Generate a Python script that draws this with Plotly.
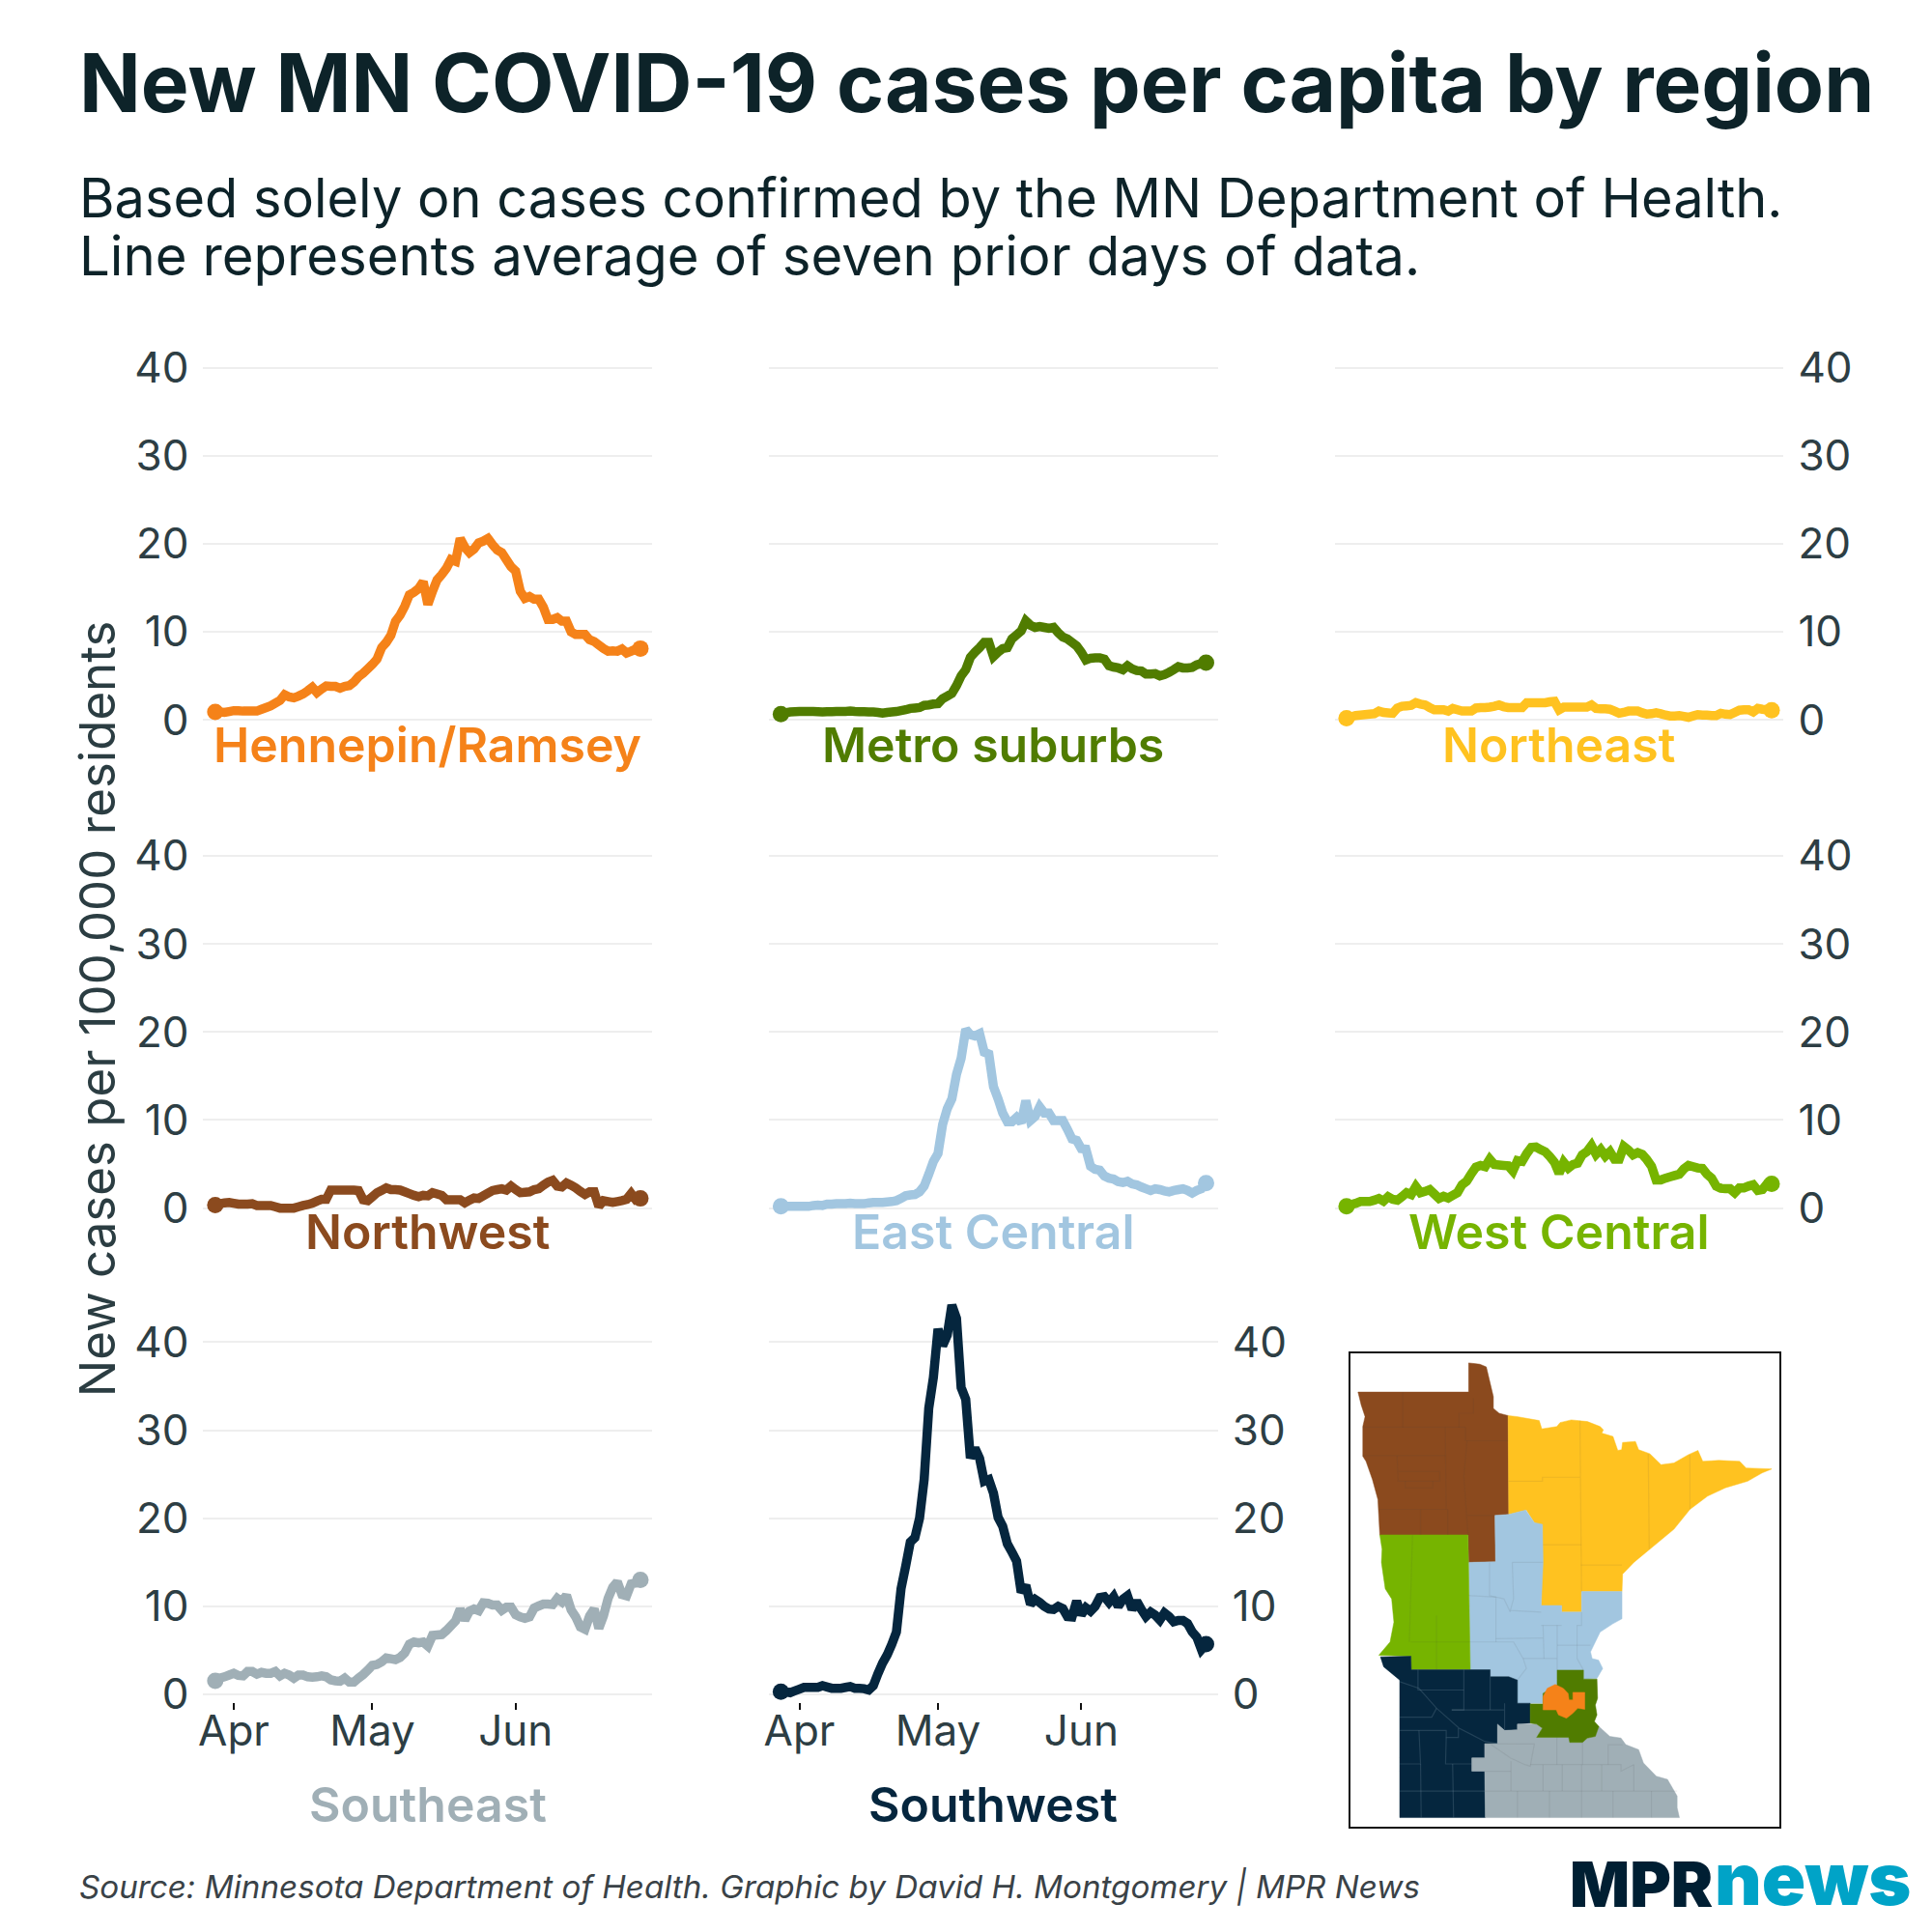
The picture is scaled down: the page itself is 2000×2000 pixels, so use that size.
import pandas as pd
import plotly.graph_objects as go

# Daily values, 28 March to 28 June
dates = pd.date_range("2020-03-28", "2020-06-28", freq="D")

hennepin_ramsey = [0.9, 0.9, 0.85, 0.95, 1.05, 1.05, 1.0, 1.0, 1.0, 1.0,
                   1.2, 1.4, 1.6, 1.9, 2.2, 2.85, 2.6, 2.5, 2.7, 2.95,
                   3.3, 3.7, 3.1, 3.5, 3.85, 3.8, 3.8, 3.6, 3.8, 3.9,
                   4.3, 4.9, 5.3, 5.8, 6.3, 6.9, 8.2, 8.8, 9.6, 11.2,
                   11.9, 12.9, 14.2, 14.5, 14.9, 15.7, 13.1, 14.6, 15.9, 16.5,
                   17.2, 18.2, 18.0, 20.6, 19.6, 19.0, 19.4, 20.1, 20.3, 20.6,
                   19.9, 19.3, 19.0, 18.2, 17.4, 16.9, 14.6, 13.8, 14.0, 13.7,
                   13.7, 12.8, 11.4, 11.4, 11.6, 11.2, 11.2, 10.0, 9.7, 9.7,
                   9.7, 9.1, 8.9, 8.5, 8.1, 7.8, 7.85, 7.8, 8.05, 7.6,
                   7.8, 8.05, 8.1]
metro_suburbs = [0.65, 0.8, 0.9, 0.92, 0.95, 0.95, 0.95, 0.95, 0.92, 0.9,
                 0.92, 0.93, 0.95, 0.95, 0.97, 1.0, 0.95, 0.93, 0.92, 0.9,
                 0.9, 0.85, 0.77, 0.85, 0.9, 0.95, 1.05, 1.15, 1.3, 1.35,
                 1.4, 1.65, 1.7, 1.8, 1.85, 2.4, 2.7, 3.0, 3.9, 5.0,
                 5.7, 7.1, 7.7, 8.2, 8.8, 8.8, 7.2, 7.7, 8.1, 8.2,
                 9.2, 9.65, 10.1, 11.25, 10.75, 10.5, 10.6, 10.5, 10.4, 10.5,
                 9.9, 9.4, 9.2, 8.8, 8.4, 7.7, 6.8, 7.0, 7.05, 7.05,
                 6.9, 6.15, 6.0, 5.9, 5.7, 6.15, 5.8, 5.6, 5.55, 5.2,
                 5.2, 5.25, 5.0, 5.15, 5.4, 5.7, 6.05, 5.9, 5.9, 5.95,
                 6.25, 6.4, 6.5]
northeast = [0.2, 0.35, 0.5, 0.55, 0.6, 0.65, 0.7, 1.0, 0.85, 0.8,
             0.75, 1.35, 1.55, 1.6, 1.65, 1.95, 1.8, 1.7, 1.4, 1.15,
             1.15, 1.15, 1.0, 1.3, 1.15, 1.0, 1.0, 1.0, 1.35, 1.4,
             1.4, 1.45, 1.55, 1.7, 1.5, 1.4, 1.4, 1.4, 1.4, 1.95,
             1.95, 1.95, 1.95, 1.95, 2.05, 2.1, 1.15, 1.45, 1.45, 1.45,
             1.45, 1.45, 1.45, 1.7, 1.3, 1.25, 1.25, 1.2, 1.0, 0.75,
             0.85, 1.0, 1.0, 1.0, 0.8, 0.65, 0.7, 0.8, 0.7, 0.55,
             0.45, 0.45, 0.5, 0.4, 0.3, 0.45, 0.6, 0.55, 0.55, 0.5,
             0.5, 0.75, 0.65, 0.6, 0.85, 1.1, 1.15, 1.15, 0.9, 1.3,
             1.2, 1.15, 1.1]
northwest = [0.35, 0.5, 0.6, 0.65, 0.55, 0.45, 0.45, 0.45, 0.5, 0.3,
             0.3, 0.3, 0.3, 0.15, 0.0, 0.0, 0.0, 0.0, 0.15, 0.3,
             0.4, 0.55, 0.8, 1.0, 1.0, 2.05, 2.05, 2.05, 2.05, 2.05,
             2.05, 2.0, 0.95, 0.85, 1.3, 1.75, 2.0, 2.3, 2.1, 2.1,
             2.05, 1.85, 1.65, 1.45, 1.3, 1.45, 1.4, 1.75, 1.6, 1.45,
             0.95, 0.95, 0.95, 0.95, 0.6, 0.9, 1.15, 1.1, 1.4, 1.7,
             2.0, 2.1, 2.2, 2.05, 2.5, 2.1, 1.75, 1.8, 1.85, 2.1,
             2.2, 2.6, 2.95, 3.15, 2.5, 2.4, 2.85, 2.6, 2.3, 1.9,
             1.55, 1.85, 1.85, 0.2, 0.85, 0.75, 0.65, 0.75, 0.85, 1.0,
             1.65, 0.95, 1.1]
east_central = [0.2, 0.2, 0.2, 0.2, 0.2, 0.2, 0.2, 0.3, 0.35, 0.3,
                0.45, 0.45, 0.5, 0.5, 0.5, 0.55, 0.5, 0.5, 0.5, 0.6,
                0.65, 0.65, 0.65, 0.7, 0.75, 0.85, 1.1, 1.4, 1.5, 1.55,
                1.85, 2.5, 3.85, 5.3, 6.2, 9.5, 11.3, 12.4, 15.2, 17.0,
                20.3, 19.7, 19.55, 19.8, 17.7, 17.5, 13.8, 12.4, 10.8, 9.8,
                9.8, 10.3, 9.7, 12.2, 9.95, 10.4, 11.5, 10.8, 10.8, 9.95,
                9.95, 9.95, 8.95, 7.85, 7.7, 6.75, 6.7, 4.75, 4.4, 4.3,
                3.65, 3.4, 3.3, 3.0, 2.9, 3.05, 2.75, 2.65, 2.4, 2.2,
                2.0, 2.2, 2.1, 1.95, 1.85, 2.0, 2.1, 2.2, 2.0, 1.7,
                2.0, 2.2, 2.85]
west_central = [0.2, 0.4, 0.55, 0.75, 0.75, 0.75, 0.9, 1.1, 0.8, 1.3,
                1.0, 0.9, 1.3, 1.75, 1.55, 2.45, 1.75, 1.9, 2.1, 1.6,
                1.1, 1.35, 1.15, 1.45, 1.75, 2.65, 3.05, 3.9, 4.65, 4.85,
                4.7, 5.55, 4.95, 4.9, 4.85, 4.8, 4.2, 5.4, 5.3, 6.2,
                6.9, 6.95, 6.65, 6.4, 5.85, 5.2, 3.95, 5.2, 4.55, 4.95,
                5.1, 6.05, 6.4, 7.1, 6.1, 6.65, 5.9, 6.4, 5.55, 5.55,
                7.0, 6.6, 6.05, 6.3, 6.1, 5.5, 4.75, 3.2, 3.2, 3.4,
                3.55, 3.7, 3.85, 4.45, 4.85, 4.7, 4.55, 4.5, 3.85, 3.4,
                2.5, 2.25, 2.2, 2.2, 1.75, 2.3, 2.3, 2.5, 2.65, 2.0,
                2.1, 2.75, 2.75]
southeast = [1.55, 1.85, 2.0, 2.2, 2.4, 2.15, 2.1, 2.6, 2.6, 2.3,
             2.5, 2.4, 2.4, 2.6, 2.1, 2.4, 2.2, 1.85, 2.2, 2.2,
             2.0, 1.95, 2.0, 2.1, 2.0, 1.65, 1.55, 1.5, 1.85, 1.4,
             1.4, 1.85, 2.25, 2.75, 3.3, 3.4, 3.7, 4.15, 4.05, 3.95,
             4.2, 4.7, 5.7, 5.95, 5.85, 5.95, 5.5, 6.7, 6.75, 6.8,
             7.25, 7.8, 8.35, 9.7, 8.45, 9.45, 9.7, 9.5, 10.4, 10.35,
             10.15, 10.15, 9.55, 9.9, 9.9, 9.05, 8.8, 8.65, 8.8, 9.8,
             10.05, 10.25, 10.25, 10.2, 10.9, 10.5, 11.25, 9.6, 8.8, 7.65,
             7.4, 8.9, 9.7, 7.5, 8.9, 10.9, 12.15, 12.8, 11.35, 11.2,
             12.55, 12.65, 13.0]
southwest = [0.3, 0.3, 0.2, 0.4, 0.6, 0.8, 0.8, 0.8, 0.8, 1.0,
             0.85, 0.7, 0.7, 0.7, 0.8, 0.9, 0.7, 0.7, 0.65, 0.5,
             1.0, 2.35, 3.55, 4.5, 5.7, 7.1, 12.0, 14.55, 17.3, 17.8,
             20.0, 24.4, 32.5, 36.0, 41.5, 39.6, 40.8, 44.2, 42.7, 34.85,
             33.5, 26.85, 27.95, 26.8, 24.2, 24.4, 22.85, 20.1, 19.1, 17.1,
             16.15, 15.15, 11.6, 12.4, 10.25, 10.8, 10.45, 10.0, 9.7, 9.65,
             10.0, 9.75, 8.85, 8.8, 10.6, 9.05, 9.85, 9.45, 10.0, 11.0,
             11.1, 10.45, 11.1, 10.0, 10.8, 11.2, 9.65, 10.6, 9.65, 8.85,
             9.35, 9.0, 8.45, 9.25, 8.85, 8.25, 8.4, 8.4, 8.05, 7.1,
             6.5, 5.1, 5.7]

y_ticks = [0, 10, 20, 30, 40]
month_ticks = ["2020-04-01", "2020-05-01", "2020-06-01"]
month_labels = ["Apr", "May", "Jun"]

# Map shapes, in the pixel grid of the map frame
nw_x = [75, 420, 420, 455, 475, 485, 497, 497, 515, 543, 543, 545, 502, 504, 420, 418, 143, 137, 120, 100, 90, 90, 97, 85]
nw_y = [176, 176, 88, 92, 100, 145, 190, 225, 240, 247, 440, 545, 548, 688, 690, 607, 607, 500, 440, 385, 370, 280, 250, 215]
ne_x = [543, 570, 640, 648, 695, 705, 740, 790, 830, 840, 835, 870, 885, 897, 900, 940, 950, 985, 1020, 1060, 1105, 1135, 1150, 1200, 1265, 1285, 1365, 1335, 1290, 1220, 1165, 1110, 1060, 985, 935, 900, 898, 772, 772, 710, 710, 646, 650, 625, 600, 545]
ne_y = [247, 250, 262, 287, 280, 268, 260, 265, 280, 290, 300, 310, 352, 350, 328, 325, 350, 362, 395, 390, 365, 352, 385, 382, 385, 405, 408, 420, 445, 465, 490, 530, 590, 650, 690, 725, 778, 778, 840, 840, 820, 820, 580, 570, 532, 545]
ec_x = [502, 545, 598, 625, 650, 652, 646, 710, 710, 772, 772, 898, 898, 870, 830, 800, 805, 825, 838, 820, 778, 778, 696, 696, 660, 652, 572, 572, 545, 487, 487, 425, 420, 504]
ec_y = [548, 545, 532, 570, 575, 690, 820, 820, 840, 840, 778, 778, 860, 875, 900, 960, 980, 985, 1010, 1040, 1042, 1015, 1015, 1060, 1085, 1115, 1115, 1045, 1035, 1035, 1014, 1014, 690, 688]
wc_x = [143, 418, 425, 241, 240, 140, 175, 187, 180, 160, 148, 150]
wc_y = [607, 607, 1013, 1013, 973, 970, 930, 870, 800, 770, 690, 650]
sw_x = [145, 240, 241, 487, 487, 545, 572, 572, 612, 612, 572, 572, 532, 510, 510, 470, 470, 430, 430, 470, 472, 205, 205, 170, 155]
sw_y = [975, 973, 1014, 1014, 1035, 1035, 1045, 1115, 1115, 1175, 1178, 1195, 1197, 1180, 1237, 1237, 1280, 1280, 1320, 1320, 1460, 1460, 1045, 1015, 1005]
se_x = [510, 532, 572, 572, 632, 650, 632, 732, 735, 775, 790, 815, 826, 860, 895, 910, 950, 965, 1005, 1040, 1070, 1070, 1077, 472, 470, 430, 430, 470, 470, 510]
se_y = [1178, 1197, 1195, 1178, 1178, 1190, 1218, 1218, 1233, 1233, 1220, 1215, 1185, 1215, 1220, 1240, 1255, 1295, 1335, 1345, 1395, 1430, 1460, 1460, 1320, 1320, 1280, 1280, 1237, 1237]
metro_x = [612, 652, 652, 696, 696, 778, 778, 820, 822, 815, 820, 812, 826, 815, 790, 775, 735, 732, 632, 650, 632, 612]
metro_y = [1117, 1117, 1085, 1060, 1015, 1015, 1042, 1042, 1100, 1120, 1150, 1170, 1185, 1215, 1220, 1233, 1233, 1218, 1218, 1190, 1178, 1175]
hr_x = [652, 652, 665, 690, 715, 730, 733, 745, 745, 782, 782, 760, 745, 725, 700, 693]
hr_y = [1135, 1095, 1070, 1058, 1070, 1085, 1105, 1105, 1082, 1082, 1133, 1130, 1145, 1160, 1150, 1135]

# County lines, None breaks the line
county_x = [215, 215, None, 90, 410, None, 347, 350, None, 390, 390, 435, 435, None, 410, 410, 543, None, 90, 347, None,
            197, 200, 330, 330, 200, None, 222, 222, 308, 308, None, 415, 405, 418, None, 140, 355, None, 270, 270, None,
            355, 355, None, 418, 502, None, 767, 772, None, 545, 650, 650, 767, None, 980, 983, None, 1110, 1110, None,
            652, 772, None, 770, 898, None, 420, 505, 505, None, 485, 485, 530, 550, None, 556, 652, None, 556, 560, 550, 646, None,
            652, 655, None, 646, 710, None, 505, 652, None, 425, 560, 590, 600, 572, None, 590, 695, None, 696, 696, None, 696, 800, None,
            772, 772, 758, 758, 778, None, 245, 235, None, 240, 425, None, 320, 320, None,
            470, 625, 612, 595, 550, 490, None, 552, 552, None, 470, 552, None, 612, 895, 895, 935, None,
            652, 652, None, 712, 712, None, 772, 772, None, 835, 835, None, 935, 935, None, 470, 1070, None,
            572, 572, None, 672, 672, None, 870, 870, None, 990, 990, None, 695, 695, None, 775, 775, None, 855, 855, 900]
county_y = [176, 282, None, 282, 282, None, 282, 530, None, 282, 240, 240, 195, None, 282, 323, 323, None, 368, 368, None,
            368, 445, 445, 415, 415, None, 445, 465, 465, 445, None, 323, 430, 607, None, 530, 530, None, 530, 607, None,
            530, 607, None, 548, 548, None, 262, 778, None, 445, 445, 433, 433, None, 362, 650, None, 365, 530, None,
            637, 637, None, 698, 698, None, 790, 795, 930, None, 690, 790, 800, 840, None, 690, 690, None, 690, 800, 835, 840, None,
            880, 980, None, 880, 880, None, 920, 918, None, 930, 930, 980, 1010, 1045, None, 980, 980, None, 880, 1015, None, 940, 940, None,
            840, 880, 880, 980, 1015, None, 607, 930, None, 930, 930, None, 850, 1013, None,
            1237, 1238, 1305, 1300, 1280, 1240, None, 1290, 1380, None, 1320, 1320, None, 1300, 1300, 1320, 1300, None,
            1300, 1380, None, 1300, 1380, None, 1300, 1460, None, 1300, 1380, None, 1300, 1380, None, 1380, 1380, None,
            1380, 1460, None, 1380, 1460, None, 1380, 1460, None, 1380, 1460, None, 1218, 1300, None, 1233, 1300, None, 1300, 1240, 1240]
sw_county_x = [262, 262, 405, None, 405, 405, 367, None, 487, 487, None, 367, 530, None, 532, 532, None,
               205, 265, 320, 390, 470, 510, None, 205, 305, 320, None, 205, 350, 350, 388, 388, None,
               265, 270, 205, None, 350, 348, 430, None, 270, 272, None, 370, 373, None, 205, 470]
sw_county_y = [1014, 1075, 1075, None, 1014, 1135, 1135, None, 1035, 1135, None, 1135, 1135, None, 1115, 1197, None,
               1050, 1070, 1130, 1190, 1230, 1237, None, 1157, 1157, 1130, None, 1197, 1197, 1218, 1218, 1190, None,
               1197, 1298, 1298, None, 1218, 1298, 1298, None, 1298, 1460, None, 1298, 1460, None, 1380, 1380]

W, H = 2000, 2000
INK = "#0D2329"
TICK = "#2D3E44"
GRID = "#EEEEEE"
FONT = "Inter"

# name, values, colour, column, row
panels = [
    ("Hennepin/Ramsey", hennepin_ramsey, "#F58219", 0, 0),
    ("Metro suburbs", metro_suburbs, "#507C00", 1, 0),
    ("Northeast", northeast, "#FFC220", 2, 0),
    ("Northwest", northwest, "#8B4A1E", 0, 1),
    ("East Central", east_central, "#A2C6E0", 1, 1),
    ("West Central", west_central, "#76B400", 2, 1),
    ("Southeast", southeast, "#A0AFB6", 0, 2),
    ("Southwest", southwest, "#05263E", 1, 2),
]
col_left = [206, 793, 1380]
col_width = 466
row_zero = [752, 1262, 1770]
px_per_unit = 9.2
y_low = -0.88
y_high = 45
label_y = [778, 1287, 1885]


def px(x):
    return x / W


def py(y):
    return 1 - y / H


fig = go.Figure()
layout = {}

for i, (name, values, color, col, row) in enumerate(panels, start=1):
    fig.add_trace(go.Scatter(x=dates, y=values, mode="lines", xaxis=f"x{i}", yaxis=f"y{i}",
                             line=dict(color=color, width=9.5, shape="linear", simplify=False), showlegend=False))
    fig.add_trace(go.Scatter(x=[dates[0], dates[-1]], y=[values[0], values[-1]], mode="markers",
                             xaxis=f"x{i}", yaxis=f"y{i}", marker=dict(color=color, size=17), showlegend=False))

    bottom = row_zero[row] - y_low * px_per_unit
    top = row_zero[row] - y_high * px_per_unit
    is_bottom = row == 2
    layout[f"xaxis{i}"] = dict(
        domain=[px(col_left[col]), px(col_left[col] + col_width)],
        anchor=f"y{i}",
        range=["2020-03-25 10:00", "2020-06-30 14:00"],
        showgrid=False, zeroline=False, showline=False,
        tickmode="array", tickvals=month_ticks, ticktext=month_labels,
        showticklabels=is_bottom,
        ticks="outside" if is_bottom else "", ticklen=7, tickwidth=2, tickcolor="#111111",
        ticklabelstandoff=-16,
        tickfont=dict(family=FONT, size=44, color=TICK),
    )
    show_y = col == 0 or col == 2 or (col == 1 and row == 2)
    layout[f"yaxis{i}"] = dict(
        domain=[py(bottom), py(top)],
        anchor=f"x{i}",
        range=[y_low, y_high],
        side="left" if col == 0 else "right",
        tickmode="array", tickvals=y_ticks,
        showticklabels=show_y, ticks="", ticklabelstandoff=14,
        showgrid=True, gridcolor=GRID, gridwidth=2, zeroline=False, showline=False,
        tickfont=dict(family=FONT, size=44, color=TICK),
    )

# Map in its own axes, with a black frame
map_traces = [
    (nw_x, nw_y, "#8B4A1E"), (ne_x, ne_y, "#FFC220"), (ec_x, ec_y, "#A2C6E0"), (wc_x, wc_y, "#76B400"),
    (sw_x, sw_y, "#05263E"), (se_x, se_y, "#A0AFB6"), (metro_x, metro_y, "#507C00"),
]
for xs, ys, color in map_traces:
    fig.add_trace(go.Scatter(x=xs + xs[:1], y=ys + ys[:1], mode="lines", fill="toself", fillcolor=color,
                             line=dict(color=color, width=0.5), xaxis="x9", yaxis="y9", showlegend=False))
fig.add_trace(go.Scatter(x=county_x, y=county_y, mode="lines", line=dict(color="rgba(70,70,70,0.09)", width=1.2),
                         xaxis="x9", yaxis="y9", showlegend=False))
fig.add_trace(go.Scatter(x=sw_county_x, y=sw_county_y, mode="lines", line=dict(color="rgba(150,175,190,0.2)", width=1.2),
                         xaxis="x9", yaxis="y9", showlegend=False))
fig.add_trace(go.Scatter(x=hr_x + hr_x[:1], y=hr_y + hr_y[:1], mode="lines", fill="toself", fillcolor="#F58219",
                         line=dict(color="#F58219", width=0.5), xaxis="x9", yaxis="y9", showlegend=False))
layout["xaxis9"] = dict(domain=[px(1396), px(1842)], anchor="y9", range=[50, 1390], visible=True,
                        showgrid=False, zeroline=False, showticklabels=False, ticks="",
                        showline=True, mirror=True, linecolor="#111111", linewidth=2)
layout["yaxis9"] = dict(domain=[py(1908), py(1414)], anchor="x9", range=[1487, 60], visible=True,
                        showgrid=False, zeroline=False, showticklabels=False, ticks="",
                        showline=True, mirror=True, linecolor="#111111", linewidth=2)


def note(text, x, y, size, color, anchor="left", weight=400, style="normal", angle=0):
    return dict(text=text, x=px(x), y=py(y), xref="paper", yref="paper", xanchor=anchor, yanchor="middle",
                showarrow=False, textangle=angle,
                font=dict(family=FONT, size=size, color=color, weight=weight, style=style))


annotations = [
    note("New MN COVID-19 cases per capita by region", 75, 86, 83.7, INK, weight=700),
    note("Based solely on cases confirmed by the MN Department of Health.", 75, 206, 55.9, INK),
    note("Line represents average of seven prior days of data.", 75, 267, 56.3, INK),
    note("New cases per 100,000 residents", 96, 1054, 51, "#2B3D42", anchor="center", angle=-90),
    note("Source: Minnesota Department of Health. Graphic by David H. Montgomery | MPR News", 75, 1971, 33.2,
         "#3A4247", style="italic"),
    note("MPR", 1622, 1968, 65, "#001F33", weight=900),
    note("news", 1772, 1962, 75, "#00A3C7", weight=900),
]
for name, values, color, col, row in panels:
    annotations.append(note(name, col_left[col] + col_width / 2, label_y[row], 50, color, anchor="center", weight=600))

fig.update_layout(
    width=W, height=H,
    margin=dict(l=0, r=0, t=0, b=0),
    paper_bgcolor="white", plot_bgcolor="white",
    font=dict(family=FONT),
    showlegend=False,
    annotations=annotations,
    **layout,
)

fig.write_html("out.html", config={"displayModeBar": False}, post_script="document.body.style.margin='0';")
